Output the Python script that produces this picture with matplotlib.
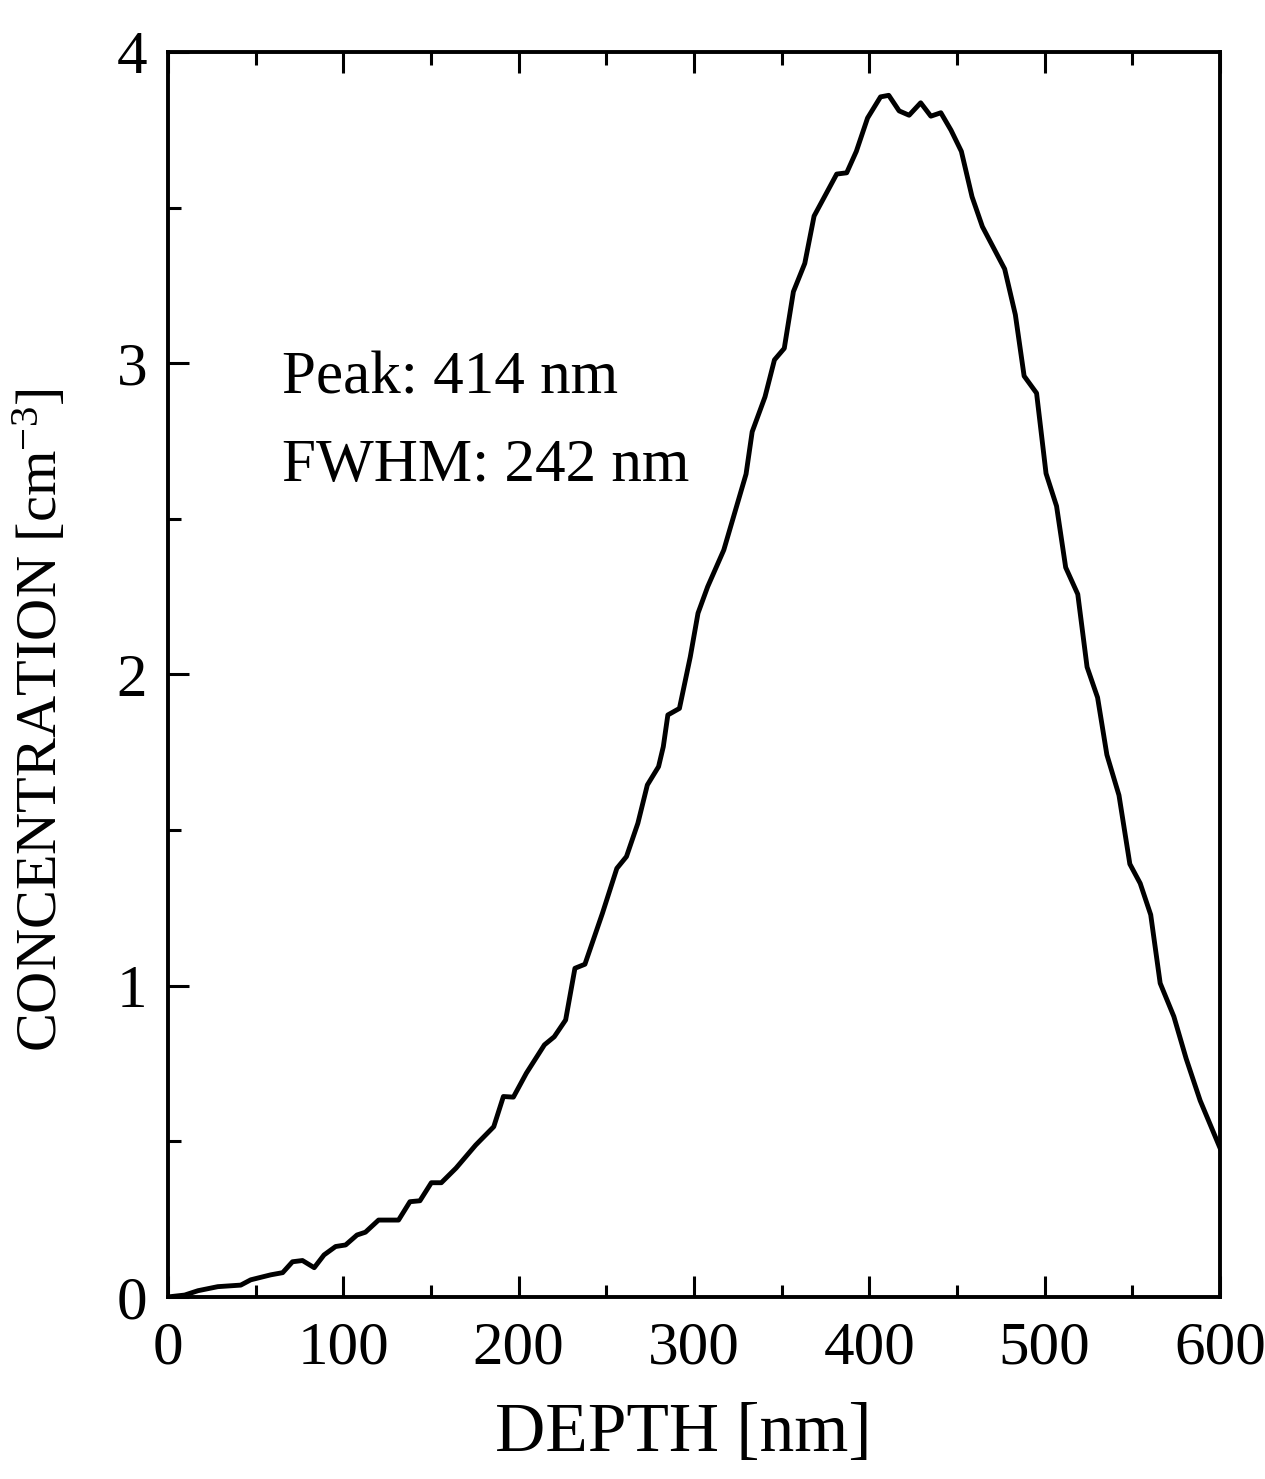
import matplotlib
matplotlib.use("Agg")
import matplotlib.pyplot as plt
from matplotlib.ticker import MultipleLocator

# depth profile
depth = [0, 9.5, 17.1, 28.4, 41.5, 47.2, 58.6, 65.4, 71.0, 76.7, 83.4, 89.0,
         95.6, 101.3, 107.8, 112.6, 120.1, 131.5, 138.0, 143.7, 150.2, 155.9,
         164.3, 175.5, 185.8, 191.3, 197.0, 204.4, 214.7, 220.3, 226.8, 232.1,
         237.8, 247.8, 256.0, 261.5, 268.0, 273.4, 279.8, 282.5, 285.1, 291.7,
         297.9, 302.3, 307.8, 317.0, 329.7, 333.2, 340.5, 345.9, 351.5, 356.7,
         363.2, 368.5, 381.4, 387.1, 392.6, 399.0, 406.4, 411.1, 417.0, 422.7,
         429.3, 435.1, 440.8, 446.6, 452.5, 458.6, 464.5, 477.2, 483.3, 488.3,
         495.4, 500.8, 506.8, 512.0, 518.9, 524.2, 530.2, 535.5, 542.4, 548.6,
         554.5, 560.5, 565.9, 573.7, 580.7, 588.7, 600.0]
conc = [0, 0.006, 0.020, 0.033, 0.038, 0.055, 0.071, 0.078, 0.113, 0.117,
        0.094, 0.135, 0.162, 0.167, 0.199, 0.208, 0.247, 0.247, 0.306, 0.309,
        0.367, 0.367, 0.414, 0.488, 0.547, 0.644, 0.642, 0.719, 0.810, 0.836,
        0.890, 1.056, 1.069, 1.233, 1.377, 1.415, 1.522, 1.645, 1.704, 1.768,
        1.870, 1.891, 2.057, 2.197, 2.282, 2.400, 2.644, 2.780, 2.892, 3.011,
        3.048, 3.230, 3.321, 3.473, 3.608, 3.612, 3.681, 3.788, 3.856, 3.861,
        3.811, 3.797, 3.837, 3.794, 3.805, 3.749, 3.681, 3.535, 3.439, 3.303,
        3.156, 2.959, 2.904, 2.646, 2.541, 2.344, 2.258, 2.024, 1.926, 1.742,
        1.612, 1.391, 1.329, 1.228, 1.008, 0.901, 0.766, 0.631, 0.479]

peak_text = "Peak: 414 nm"
fwhm_text = "FWHM: 242 nm"

plt.rcParams['font.family'] = ['Liberation Serif', 'DejaVu Serif']
plt.rcParams['mathtext.default'] = 'regular'

fig = plt.figure(figsize=(12.65, 14.79), dpi=100)
ax = fig.add_axes([0.1328, 0.1231, 0.8316, 0.8417])

ax.plot(depth, conc, color='black', linewidth=3.5)

ax.set_xlim(0, 600)
ax.set_ylim(0, 4)
ax.xaxis.set_major_locator(MultipleLocator(100))
ax.xaxis.set_minor_locator(MultipleLocator(50))
ax.yaxis.set_major_locator(MultipleLocator(1))
ax.yaxis.set_minor_locator(MultipleLocator(0.5))

ax.tick_params(which='both', direction='in', top=True, right=False,
               width=2.2, labelsize=44, color='black')
ax.tick_params(which='major', length=15)
ax.tick_params(which='minor', length=9)
ax.tick_params(axis='x', which='major', pad=17)
ax.tick_params(axis='y', which='major', pad=15)
for side in ax.spines.values():
    side.set_linewidth(2.8)

ax.set_xlabel("DEPTH [nm]", fontsize=50)
ax.set_ylabel("CONCENTRATION [cm$^{-3}$]", fontsize=42)
ax.xaxis.set_label_coords(0.49, -0.085)
ax.yaxis.set_label_coords(-0.094, 0.463)

ax.text(65, 2.95, peak_text, fontsize=44, ha='left', va='center')
ax.text(65, 2.67, fwhm_text, fontsize=44, ha='left', va='center')

fig.savefig("out.png", dpi=100)
